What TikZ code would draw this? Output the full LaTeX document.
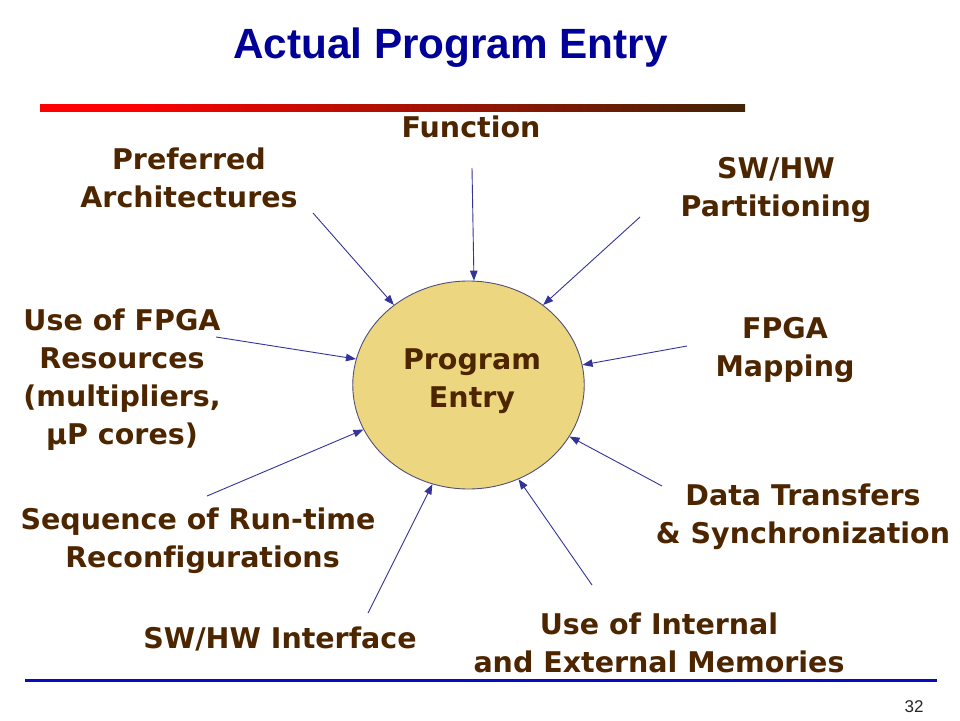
\documentclass[tikz,border=0pt]{standalone}
\usepackage{fontspec}
\setmainfont{DejaVu Sans}[Ligatures=NoCommon]
\newfontfamily\titlefont{Liberation Sans}
\usetikzlibrary{shapes.geometric,arrows.meta}
\definecolor{titleblue}{RGB}{0,0,153}
\definecolor{labelbrown}{RGB}{77,38,0}
\definecolor{ellfill}{RGB}{236,214,128}
\definecolor{ellline}{RGB}{80,80,120}
\definecolor{arrowblue}{RGB}{51,51,153}
\definecolor{barbrown}{RGB}{66,36,6}
\definecolor{lineblue}{RGB}{10,10,190}
\pgfdeclarehorizontalshading{redbrown}{100bp}{color(0bp)=(red); color(31bp)=(red); color(75bp)=(barbrown); color(100bp)=(barbrown)}
\tikzset{
  lbl/.style={font=\fontsize{28.5}{38}\selectfont\bfseries, text=labelbrown, align=center, anchor=base, inner sep=0pt},
  feed/.style={draw=arrowblue, line width=0.9pt, -{Triangle[length=10pt,width=7.5pt]}},
}
\begin{document}
\begin{tikzpicture}[x=1pt,y=-1pt]
\useasboundingbox[fill=white] (0,0) rectangle (960,720);
% title
\node[font=\titlefont\fontsize{42.3}{48}\selectfont\bfseries, text=titleblue, anchor=base, inner sep=0pt] (title) at (450.5,58) {Actual Program Entry};
% gradient bar
\shade[shading=redbrown] (40,104) rectangle (745,111);
% bottom line
\fill[lineblue] (25,678.5) rectangle (937,681.5);
\node[font=\titlefont\fontsize{17}{20}\selectfont, text=black!85, anchor=base, inner sep=0pt] (pnum) at (914,712) {32};
% central ellipse
\node[ellipse, draw=ellline, line width=0.9pt, fill=ellfill, minimum width=231.5pt, minimum height=208pt, inner sep=0pt] (prog) at (468.5,385) {};
% labels (anchor = baseline of the last line)
\node[lbl] (progtxt) at (472,407) {Program\\Entry};
\node[lbl] (fun) at (471,137) {Function};
\node[lbl] (pref) at (189,207) {Preferred\\Architectures};
\node[lbl] (part) at (776,216) {SW/HW\\Partitioning};
\node[lbl] (res) at (122,444) {Use of FPGA\\Resources\\(multipliers,\\µP cores)};
\node[lbl] (map) at (785,376) {FPGA\\Mapping};
\node[lbl] (seq) at (198,567) {Sequence of Run-time\\\hspace*{9pt}Reconfigurations};
\node[lbl] (dat) at (803,543) {Data Transfers\\\& Synchronization};
\node[lbl] (swi) at (280,648) {SW/HW Interface};
\node[lbl] (mem) at (659,672) {Use of Internal\\and External Memories};
% arrow start points
\coordinate (sfun) at (472,168);
\coordinate (spref) at (313,213);
\coordinate (spart) at (640,217);
\coordinate (sres) at (216,337);
\coordinate (smap) at (687,346);
\coordinate (sseq) at (207,496);
\coordinate (sdat) at (662,486);
\coordinate (sswi) at (368,613);
\coordinate (smem) at (592,585);
% arrows
\draw[feed] (sfun) -- (prog.87.7);
\draw[feed] (spref) -- (prog.133.2);
\draw[feed] (spart) -- (prog.47);
\draw[feed] (sres) -- (prog.167.9);
\draw[feed] (smap) -- (prog.10.4);
\draw[feed] (sseq) -- (prog.203.7);
\draw[feed] (sdat) -- (prog.333.9);
\draw[feed] (sswi) -- (prog.250.1);
\draw[feed] (smem) -- (prog.298.5);
\end{tikzpicture}
\end{document}
